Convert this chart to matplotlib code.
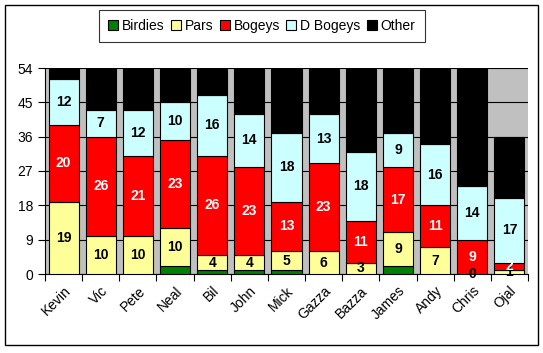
import matplotlib.pyplot as plt
from matplotlib.patches import Rectangle
import numpy as np

plt.rcParams['font.family'] = ['Liberation Sans', 'DejaVu Sans']

players = ['Kevin', 'Vic', 'Pete', 'Neal', 'Bil', 'John', 'Mick',
           'Gazza', 'Bazza', 'James', 'Andy', 'Chris', 'Ojal']
birdies = [0, 0, 0, 2, 1, 1, 1, 0, 0, 2, 0, 0, 0]
pars = [19, 10, 10, 10, 4, 4, 5, 6, 3, 9, 7, 0, 1]
bogeys = [20, 26, 21, 23, 26, 23, 13, 23, 11, 17, 11, 9, 2]
d_bogeys = [12, 7, 12, 10, 16, 14, 18, 13, 18, 9, 16, 14, 17]
other = [3, 11, 11, 9, 7, 12, 17, 12, 22, 17, 20, 31, 16]

series = [
    ('Birdies', birdies, '#008000', None),
    ('Pars', pars, '#FFFF99', 'black'),
    ('Bogeys', bogeys, '#FF0000', 'white'),
    ('D Bogeys', d_bogeys, '#CCFFFF', 'black'),
    ('Other', other, '#000000', None),
]

fig = plt.figure(figsize=(5.43, 3.53), dpi=100)
ax = fig.add_axes([45 / 543, 79 / 353, 483 / 543, 206 / 353])
ax.set_facecolor('#C0C0C0')

x = np.arange(len(players))
bottom = np.zeros(len(players))
handles = []
for name, vals, col, txtcol in series:
    vals = np.array(vals, dtype=float)
    bars = ax.bar(x, vals, 0.81, bottom=bottom, color=col,
                  edgecolor='black', linewidth=0.8, zorder=3, label=name)
    handles.append(bars)
    if txtcol is not None:
        for xi, b, v in zip(x, bottom, vals):
            ax.text(xi, b + v / 2, str(int(v)), ha='center', va='center',
                    color=txtcol, fontsize=10, fontweight='bold', zorder=4)
    bottom = bottom + vals

ax.set_xlim(-0.5, len(players) - 0.5)
ax.set_ylim(0, 54)
ax.set_yticks(range(0, 55, 9))
ax.yaxis.grid(True, color='black', linewidth=0.8, zorder=1)
ax.set_axisbelow(True)

ax.set_xticks(x)
ax.set_xticklabels(players, rotation=45, ha='right', rotation_mode='anchor',
                   fontsize=10)
ax.set_xticks(np.arange(-0.5, len(players), 1), minor=True)
ax.tick_params(axis='x', which='major', length=0, pad=7)
ax.tick_params(axis='x', which='minor', length=5, direction='out', width=0.8)
ax.tick_params(axis='y', length=5, direction='out', width=0.8, labelsize=10)

for s in ['top', 'right']:
    ax.spines[s].set_visible(False)
ax.spines['left'].set_linewidth(0.8)
ax.spines['bottom'].set_linewidth(0.8)

leg = fig.legend(handles=handles, loc='upper center', ncol=5,
                 bbox_to_anchor=(262 / 543, 1 - 10 / 353), fontsize=10,
                 frameon=True, fancybox=False, edgecolor='black',
                 handlelength=0.7, handleheight=0.7, handletextpad=0.3,
                 columnspacing=0.45, borderpad=0.65, borderaxespad=0)
leg.get_frame().set_linewidth(0.8)

fig.patches.append(Rectangle((5 / 543, 8 / 353), 533 / 543, 340 / 353,
                             transform=fig.transFigure, fill=False,
                             edgecolor='black', linewidth=1))

fig.savefig('out.png', dpi=100)
